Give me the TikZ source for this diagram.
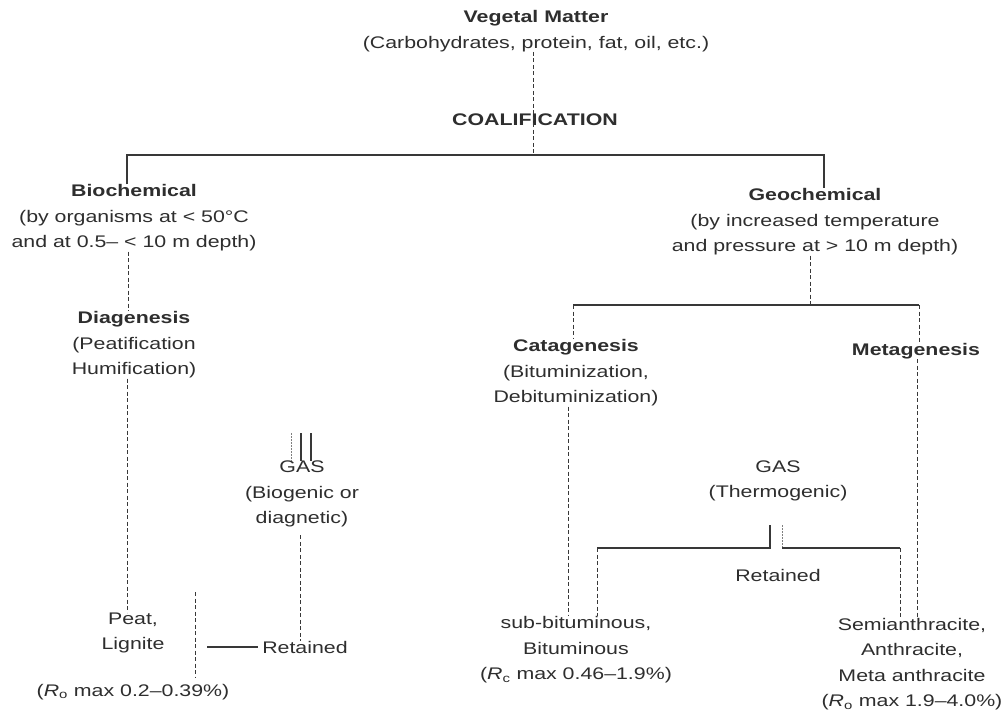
\documentclass[tikz,border=0pt]{standalone}
\usepackage{fontspec}
\setmainfont{Liberation Sans}[FakeStretch=1.27]
\begin{document}
\begin{tikzpicture}[x=1pt,y=-1pt,
  txt/.style={inner sep=0pt, align=center, text=black!82, font=\fontsize{16.8}{25.5}\selectfont},
  hd/.style={txt, font=\fontsize{16.8}{25.5}\selectfont\bfseries},
  solidln/.style={draw=black!78, line width=1.1pt},
  dashln/.style={draw=black!78, line width=1pt, dash pattern=on 4pt off 2.5pt},
  dotln/.style={draw=black!50, line width=0.8pt, dash pattern=on 1.5pt off 1.5pt}]
\path[use as bounding box, fill=white] (0,0) rectangle (1008,713);

% nodes
\node[txt] (veg) at (536,31) {\textbf{Vegetal Matter}\\(Carbohydrates, protein, fat, oil, etc.)};
\node[hd] (coal) at (535,120) {COALIFICATION};
\node[txt] (bio) at (134,218) {\textbf{Biochemical}\\(by organisms at < 50°C\\and at 0.5– < 10 m depth)};
\node[txt] (geo) at (815,222) {\textbf{Geochemical}\\(by increased temperature\\and pressure at > 10 m depth)};
\node[txt] (dia) at (134,345) {\textbf{Diagenesis}\\(Peatification\\Humification)};
\node[txt] (cata) at (576,373) {\textbf{Catagenesis}\\(Bituminization,\\Debituminization)};
\node[hd] (meta) at (916,351) {Metagenesis};
\node[txt] (gas1) at (302,494) {GAS\\(Biogenic or\\diagnetic)};
\node[txt] (gas2) at (778,481) {GAS\\(Thermogenic)};
\node[txt] (ret2) at (778,575) {Retained};
\node[txt] (peat) at (133,633) {Peat,\\Lignite};
\node[txt] (ro1) at (133,692) {(\textit{R}\textsubscript{o} max 0.2–0.39\%)};
\node[txt] (ret1) at (305,647) {Retained};
\node[txt] (sub) at (576,650) {sub-bituminous,\\Bituminous\\(\textit{R}\textsubscript{c} max 0.46–1.9\%)};
\node[txt] (semi) at (912,664) {Semianthracite,\\Anthracite,\\Meta anthracite\\(\textit{R}\textsubscript{o} max 1.9–4.0\%)};

% coordinates
\coordinate (j0) at (533,155);
\coordinate (jl) at (127,155);
\coordinate (jr) at (824,155);
\coordinate (cB) at (128,0);
\coordinate (cL) at (127,0);
\coordinate (f1) at (195,592);
\coordinate (f2) at (195,678);
\coordinate (r1) at (207,647);
\coordinate (cG) at (300,0);
\coordinate (s1a) at (291,433);
\coordinate (s1b) at (301,433);
\coordinate (s1c) at (311,433);
\coordinate (j1) at (810,305);
\coordinate (bl) at (573,305);
\coordinate (br) at (919,305);
\coordinate (cC) at (568,0);
\coordinate (cM) at (917,0);
\coordinate (s2a) at (770,525);
\coordinate (s2b) at (782,525);
\coordinate (g2a) at (770,548);
\coordinate (g2b) at (782,548);
\coordinate (g2l) at (597,548);
\coordinate (g2r) at (900,548);

% connectors
\draw[dashln] (veg.south -| j0) -- (j0);
\draw[solidln] (bio.north -| jl) -- (jl) -- (jr) -- (geo.north -| jr);
\draw[dashln] (bio.south -| cB) -- (dia.north -| cB);
\draw[dashln] (dia.south -| cL) -- (peat.north -| cL);
\draw[dashln] (f1) -- (f2);
\draw[solidln, shorten >=4pt] (r1) -- (ret1.west);
\draw[dotln] (s1a) -- (gas1.north -| s1a);
\draw[solidln] (s1b) -- (gas1.north -| s1b);
\draw[solidln] (s1c) -- (gas1.north -| s1c);
\draw[dashln, shorten <=8pt] (gas1.south -| cG) -- (ret1.north -| cG);
\draw[dashln] (geo.south -| j1) -- (j1);
\draw[solidln] (bl) -- (br);
\draw[dashln] (bl) -- (cata.north -| bl);
\draw[dashln] (br) -- (meta.north -| br);
\draw[dashln] (cata.south -| cC) -- (sub.north -| cC);
\draw[dashln] (meta.south -| cM) -- (semi.north -| cM);
\draw[solidln] (s2a) -- (g2a) -- (g2l);
\draw[dashln] (g2l) -- (sub.north -| g2l);
\draw[dotln] (s2b) -- (g2b);
\draw[solidln] (g2b) -- (g2r);
\draw[dashln] (g2r) -- (semi.north -| g2r);
\end{tikzpicture}
\end{document}
